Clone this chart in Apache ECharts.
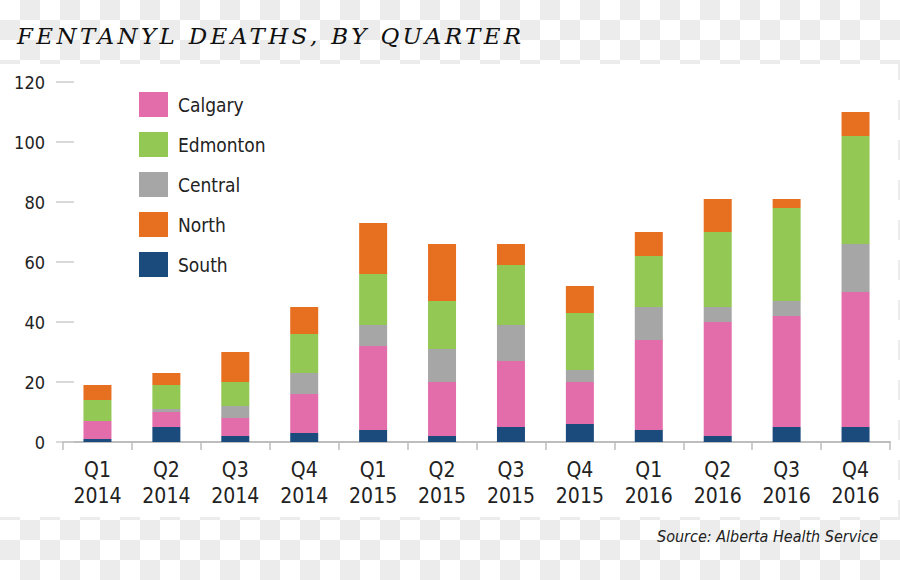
<!DOCTYPE html>
<html>
<head>
<meta charset="utf-8">
<script src="https://cdn.jsdelivr.net/npm/echarts/dist/echarts.min.js"></script>
<style>
  html, body { margin: 0; padding: 0; background: #fff; }
  #chart {
    width: 900px; height: 580px;
    background-color: #fff;
    background-image: conic-gradient(#ececec 0 25%, #fff 0 50%, #ececec 0 75%, #fff 0);
    background-size: 40px 40px;
  }
</style>
</head>
<body>
<div id="chart"></div>
<script>
// ---- data ----
const quarters = ['Q1', 'Q2', 'Q3', 'Q4', 'Q1', 'Q2', 'Q3', 'Q4', 'Q1', 'Q2', 'Q3', 'Q4'];
const years    = ['2014', '2014', '2014', '2014', '2015', '2015', '2015', '2015', '2016', '2016', '2016', '2016'];
const south    = [1, 5, 2, 3, 4, 2, 5, 6, 4, 2, 5, 5];
const calgary  = [6, 5, 6, 13, 28, 18, 22, 14, 30, 38, 37, 45];
const central  = [0, 1, 4, 7, 7, 11, 12, 4, 11, 5, 5, 16];
const edmonton = [7, 8, 8, 13, 17, 16, 20, 19, 17, 25, 31, 36];
const north    = [5, 4, 10, 9, 17, 19, 7, 9, 8, 11, 3, 8];
const legendOrder = ['Calgary', 'Edmonton', 'Central', 'North', 'South'];
const yTicks = { min: 0, max: 120, interval: 20 };
const titleText = 'FENTANYL DEATHS, BY QUARTER';
const sourceText = 'Source: Alberta Health Service';

const categories = quarters.map((q, i) => q + '\n' + years[i]);

const narrow = "'Liberation Sans Narrow', 'DejaVu Sans Condensed', 'Liberation Sans', sans-serif";
const colors = {
  South: '#1b4a7d', Calgary: '#e36dab', Central: '#a6a6a6', Edmonton: '#92c853', North: '#e76f20'
};

const seriesDefs = [
  ['South', south], ['Calgary', calgary], ['Central', central], ['Edmonton', edmonton], ['North', north]
];

const chart = echarts.init(document.getElementById('chart'), null, { renderer: 'svg' });

chart.setOption({
  animation: false,
  backgroundColor: 'transparent',
  graphic: [{
    type: 'rect', z: -10, silent: true,
    shape: { x: 0, y: 64, width: 898, height: 453 },
    style: { fill: '#ffffff' }
  }],
  title: [{
    text: titleText, left: 17, top: 24, padding: 0,
    textStyle: { fontFamily: "'DejaVu Serif', serif", fontStyle: 'italic', fontWeight: 'normal', fontSize: 23, color: '#111' }
  }, {
    text: sourceText, right: 22, top: 528, padding: 0,
    textStyle: { fontFamily: narrow, fontStyle: 'italic', fontWeight: 'normal', fontSize: 16, color: '#222' }
  }],
  legend: {
    orient: 'vertical', left: 139, top: 92, padding: 0,
    itemWidth: 29, itemHeight: 25, itemGap: 15, icon: 'rect',
    selectedMode: false,
    data: legendOrder,
    textStyle: { fontFamily: narrow, fontSize: 19, color: '#222', padding: [0, 0, 0, 5] }
  },
  grid: { left: 63, right: 10, top: 82, bottom: 138 },
  xAxis: {
    type: 'category', data: categories,
    axisLine: { lineStyle: { color: '#bdbdbd', width: 2 } },
    axisTick: { show: true, interval: 0, length: 8, lineStyle: { color: '#bdbdbd', width: 1.5 } },
    axisLabel: { interval: 0, fontFamily: narrow, fontSize: 21, lineHeight: 26, color: '#222', margin: 15 }
  },
  yAxis: {
    type: 'value', min: yTicks.min, max: yTicks.max, interval: yTicks.interval,
    offset: -11,
    axisLine: { show: false },
    axisTick: { show: true, length: 18, lineStyle: { color: '#cccccc', width: 1.5 } },
    axisLabel: { fontFamily: narrow, fontSize: 18, color: '#222', margin: 29, padding: [3, 0, 0, 0] },
    splitLine: { show: false }
  },
  series: seriesDefs.map(([name, vals]) => ({
    name, type: 'bar', stack: 'total', barWidth: 28, data: vals,
    itemStyle: { color: colors[name] },
    emphasis: { disabled: true }
  }))
});

const titleWidth = 504;
function applySpacing() {
  document.querySelectorAll('#chart svg text').forEach(t => {
    if (t.textContent === titleText) {
      t.style.letterSpacing = '0px';
      const L = t.getComputedTextLength();
      const s = Math.max(0, (titleWidth - L) / (titleText.length - 1));
      t.style.letterSpacing = s.toFixed(2) + 'px';
    }
  });
}
chart.on('finished', applySpacing);
applySpacing();
setTimeout(applySpacing, 50);
</script>
</body>
</html>
